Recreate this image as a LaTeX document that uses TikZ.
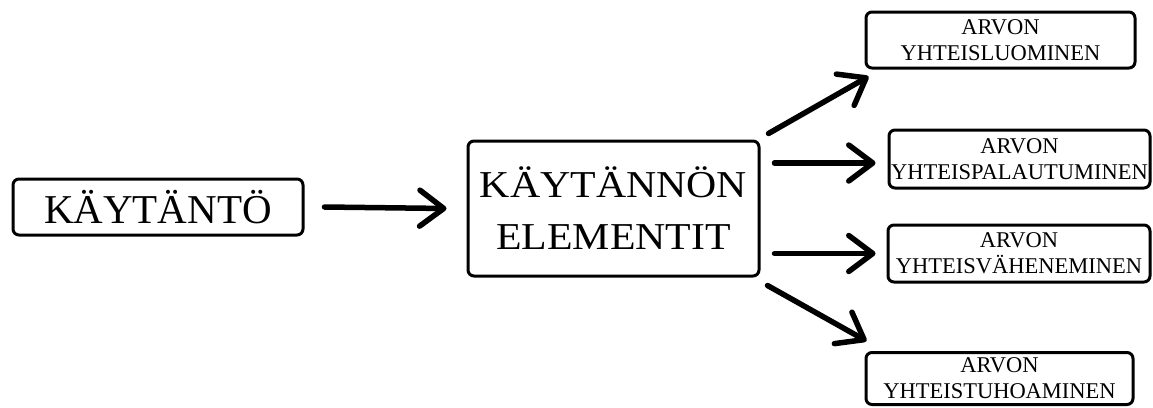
\documentclass[tikz,border=0pt]{standalone}
\usepackage{fontspec}
\setmainfont{Liberation Serif}
\usetikzlibrary{arrows.meta,calc}
\begin{document}
\begin{tikzpicture}[x=1pt,y=-1pt,
  box/.style={draw=black, line width=3pt, rounded corners=6pt, inner sep=0pt, align=center},
  bigtxt/.style={font=\fontsize{41}{52}\selectfont},
  midtxt/.style={font=\fontsize{38}{52}\selectfont},
  smalltxt/.style={font=\fontsize{22.5}{26}\selectfont},
  arr/.style={line width=5.5pt, line cap=round,
    -{Straight Barb[length=24pt,width=36pt,line join=round,line cap=round]}}
]
\useasboundingbox (0,0) rectangle (1153,407);

% practice and its elements
\node[box,bigtxt,minimum width=290pt,minimum height=56pt] (src) at (158,207) {KÄYTÄNTÖ};
\node[box,midtxt,minimum width=291pt,minimum height=135pt] (mid) at (613.5,208.5)
  {\scalebox{1.1}[1]{KÄYTÄNNÖN}\\\scalebox{1.1}[1]{ELEMENTIT}};

% outcomes
\node[box,smalltxt,minimum width=269pt,minimum height=56pt] (o1) at (1000.5,40)
  {ARVON\\YHTEISLUOMINEN};
\node[box,smalltxt,minimum width=261pt,minimum height=58pt] (o2) at (1019.5,159)
  {ARVON\\YHTEISPALAUTUMINEN};
\node[box,smalltxt,minimum width=262pt,minimum height=57pt] (o3) at (1019,253.5)
  {ARVON\\YHTEISVÄHENEMINEN};
\node[box,smalltxt,minimum width=267pt,minimum height=52pt] (o4) at (999.5,378.5)
  {ARVON\\YHTEISTUHOAMINEN};

% connectors
\draw[arr] ([xshift=20pt]src.east) -- ([xshift=-20pt]mid.west);
\draw[arr] ($(mid.north east)+(8,-6)$) -- ($(o1.south west)+(4,7)$);
\draw[arr] ($(mid.east |- o2.west)+(14,4)$) -- ($(o2.west)+(-12,4)$);
\draw[arr] ($(mid.east |- o3.west)+(14,0)$) -- ($(o3.west)+(-11,0)$);
\draw[arr] ($(mid.south east)+(7,8)$) -- ($(o4.north west)+(2,-10)$);
\end{tikzpicture}
\end{document}
